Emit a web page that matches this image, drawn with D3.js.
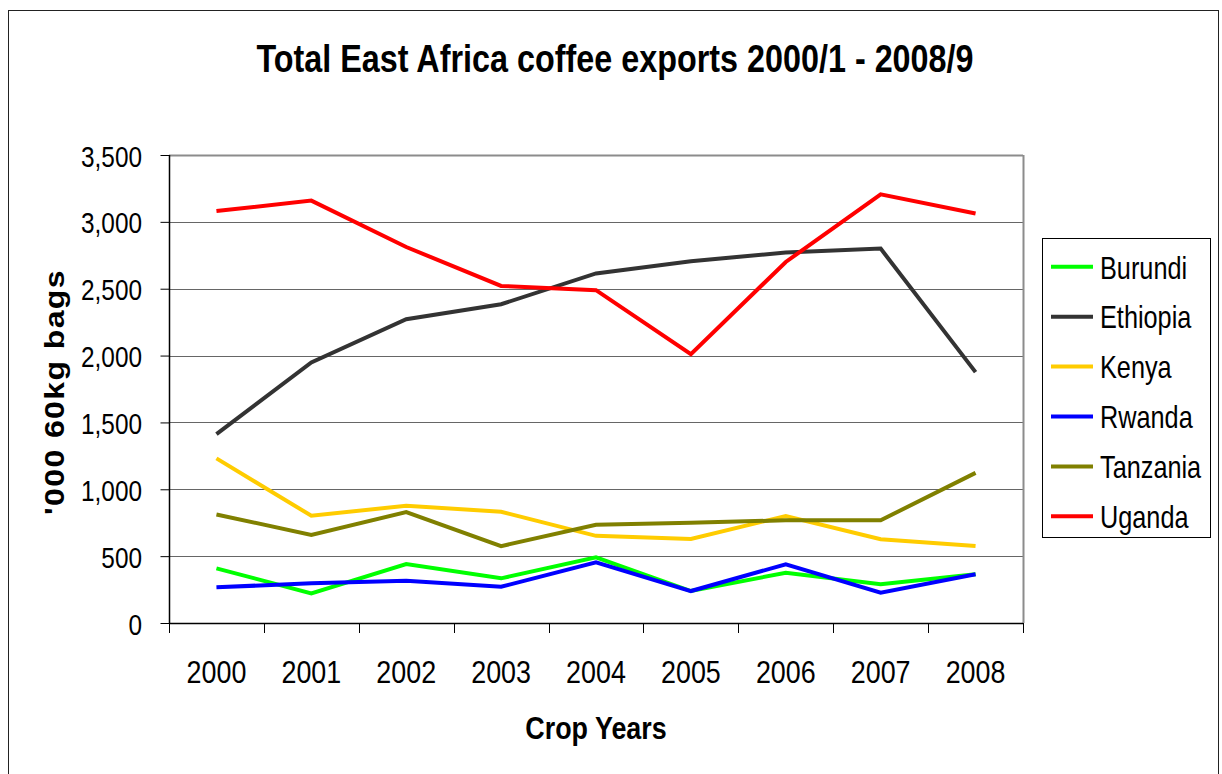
<!DOCTYPE html>
<html>
<head>
<meta charset="utf-8">
<script src="https://cdn.jsdelivr.net/npm/d3@7/dist/d3.min.js"></script>
<style>
  html, body { margin: 0; padding: 0; background: #fff; }
  svg { display: block; font-family: "Liberation Sans", Arial, sans-serif; }
</style>
</head>
<body>
<svg id="chart" width="1222" height="774"></svg>
<script>
// Crop years (2000 = 2000/1 season, etc.)
const years = ["2000", "2001", "2002", "2003", "2004", "2005", "2006", "2007", "2008"];

// Exports, thousands of 60kg bags
const burundi  = [409, 222, 441, 334, 491, 239, 376, 289, 364];
const ethiopia = [1413, 1948, 2272, 2384, 2614, 2706, 2771, 2800, 1876];
const kenya    = [1231, 802, 877, 832, 652, 628, 800, 626, 575];
const rwanda   = [267, 297, 316, 271, 454, 239, 439, 226, 364];
const tanzania = [812, 658, 830, 575, 735, 750, 768, 768, 1123];
const uganda   = [3081, 3159, 2812, 2521, 2489, 2010, 2700, 3206, 3062];

const seriesNames  = ["Burundi", "Ethiopia", "Kenya", "Rwanda", "Tanzania", "Uganda"];
const seriesValues = [burundi, ethiopia, kenya, rwanda, tanzania, uganda];
const seriesColors = ["#00ff00", "#333333", "#ffcc00", "#0000ff", "#808000", "#ff0000"];

const yTicks = [0, 500, 1000, 1500, 2000, 2500, 3000, 3500];

const svg = d3.select("#chart");

// Text in this chart is drawn slightly condensed horizontally
const SX = 0.84;
function label(g, x, y, str, opts) {
  const t = g.append("text")
    .attr("transform", `translate(${x},${y}) scale(${opts.sx || SX},1)`)
    .attr("text-anchor", opts.anchor || "start")
    .attr("font-size", opts.size)
    .attr("font-weight", opts.bold ? "bold" : "normal")
    .attr("fill", "#000")
    .text(str);
  return t;
}

// Outer frame
svg.append("rect")
  .attr("x", 8.5).attr("y", 10.5)
  .attr("width", 1210).attr("height", 770)
  .attr("fill", "#fff").attr("stroke", "#222").attr("stroke-width", 1);

// Plot area
const plot = { left: 169, top: 155, right: 1023, bottom: 623 };

const x = d3.scaleBand().domain(years).range([plot.left, plot.right]).paddingInner(0).paddingOuter(0);
const y = d3.scaleLinear().domain([0, 3500]).range([plot.bottom, plot.top]);

// Horizontal gridlines
svg.append("g")
  .selectAll("line")
  .data(yTicks.filter(d => d > 0))
  .join("line")
  .attr("x1", plot.left).attr("x2", plot.right)
  .attr("y1", d => Math.round(y(d)) + 0.5).attr("y2", d => Math.round(y(d)) + 0.5)
  .attr("stroke", d => d === 3500 ? "#8c8c8c" : "#666")
  .attr("stroke-width", d => d === 3500 ? 2 : 1);

// Right border of plot area
svg.append("line")
  .attr("x1", plot.right + 0.5).attr("x2", plot.right + 0.5)
  .attr("y1", plot.top).attr("y2", plot.bottom)
  .attr("stroke", "#8c8c8c").attr("stroke-width", 2);

// Y axis
const yAxis = d3.axisLeft(y).tickValues(yTicks).tickSize(9).tickFormat(() => "");
const gy = svg.append("g").attr("transform", `translate(${plot.left + 0.5},0)`).call(yAxis);
gy.select(".domain").attr("stroke", "#000").attr("stroke-width", 1.5).attr("d", `M0,${plot.top}V${plot.bottom}`);
gy.selectAll(".tick line").attr("stroke", "#000");
yTicks.forEach(v => {
  label(svg, 142, y(v) + 11.5, d3.format(",")(v), { size: 29, anchor: "end" });
});

// X axis with ticks between categories
const xEdges = years.map(d => x(d)).concat([plot.right]);
svg.append("line")
  .attr("x1", plot.left).attr("x2", plot.right)
  .attr("y1", plot.bottom + 0.5).attr("y2", plot.bottom + 0.5)
  .attr("stroke", "#000").attr("stroke-width", 1.5);
svg.append("g")
  .selectAll("line")
  .data(xEdges)
  .join("line")
  .attr("x1", d => Math.round(d) + 0.5).attr("x2", d => Math.round(d) + 0.5)
  .attr("y1", plot.bottom).attr("y2", plot.bottom + 10)
  .attr("stroke", "#000").attr("stroke-width", 1);
years.forEach(yr => {
  label(svg, x(yr) + x.bandwidth() / 2, 683, yr, { size: 32, anchor: "middle" });
});

// Series lines
const line = d3.line()
  .x((d, i) => x(years[i]) + x.bandwidth() / 2)
  .y(d => y(d))
  .curve(d3.curveLinear);

svg.append("g")
  .selectAll("path")
  .data(seriesValues)
  .join("path")
  .attr("d", d => line(d))
  .attr("fill", "none")
  .attr("stroke", (d, i) => seriesColors[i])
  .attr("stroke-width", 4)
  .attr("stroke-linejoin", "miter")
  .attr("stroke-linecap", "butt");

// Title
label(svg, 615, 72, "Total East Africa coffee exports 2000/1 - 2008/9", { size: 38.5, anchor: "middle", bold: true });

// Axis titles
label(svg, 596, 739, "Crop Years", { size: 32, anchor: "middle", bold: true });
svg.append("text")
  .attr("transform", "translate(64,392) rotate(-90) scale(1,0.84)")
  .attr("text-anchor", "middle")
  .attr("font-size", 32)
  .attr("font-weight", "bold")
  .attr("letter-spacing", 1.4)
  .text("'000 60kg bags");

// Legend
const legend = svg.append("g");
legend.append("rect")
  .attr("x", 1042.5).attr("y", 238.5)
  .attr("width", 168).attr("height", 299)
  .attr("fill", "#fff").attr("stroke", "#000").attr("stroke-width", 1);
seriesNames.forEach((name, i) => {
  const ly = 266.8 + i * 49.9;
  legend.append("line")
    .attr("x1", 1051).attr("x2", 1093)
    .attr("y1", ly).attr("y2", ly)
    .attr("stroke", seriesColors[i]).attr("stroke-width", 4);
  label(legend, 1100, ly + 11.7, name, { size: 32, sx: 0.79 });
});
</script>
</body>
</html>
